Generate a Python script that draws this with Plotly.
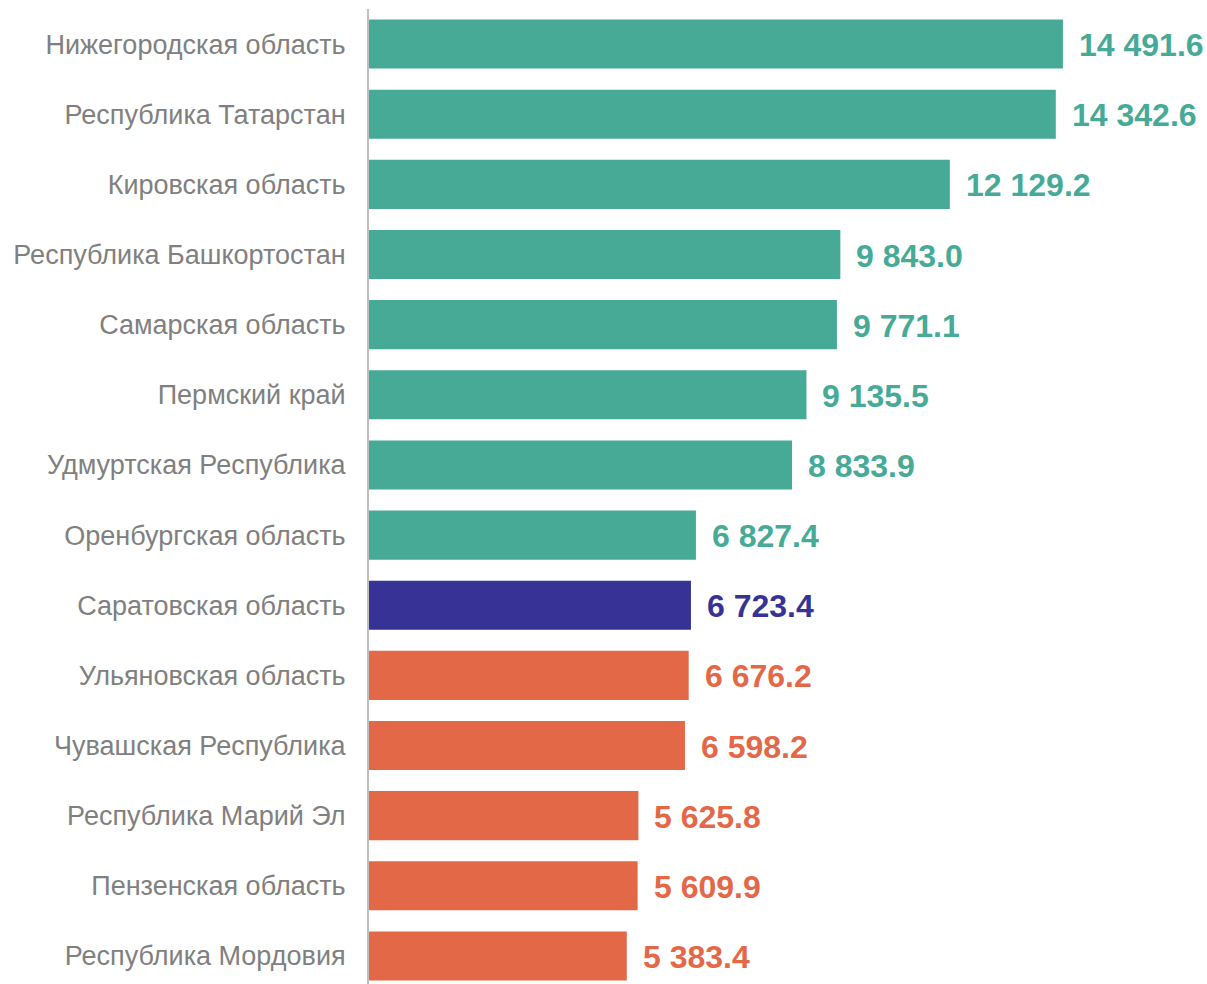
import plotly.graph_objects as go

regions = [
    "Нижегородская область",
    "Республика Татарстан",
    "Кировская область",
    "Республика Башкортостан",
    "Самарская область",
    "Пермский край",
    "Удмуртская Республика",
    "Оренбургская область",
    "Саратовская область",
    "Ульяновская область",
    "Чувашская Республика",
    "Республика Марий Эл",
    "Пензенская область",
    "Республика Мордовия",
]
values = [14491.6, 14342.6, 12129.2, 9843.0, 9771.1, 9135.5, 8833.9,
          6827.4, 6723.4, 6676.2, 6598.2, 5625.8, 5609.9, 5383.4]

TEAL = "#46AA97"
NAVY = "#373296"
ORANGE = "#E36847"
ref_index = regions.index("Саратовская область")
colors = [TEAL if i < ref_index else (NAVY if i == ref_index else ORANGE)
          for i in range(len(values))]

def fmt(v):
    return f"{v:,.1f}".replace(",", " ")

FONT = "Liberation Sans, Arial, sans-serif"

fig = go.Figure()
fig.add_trace(go.Bar(
    x=values, y=regions, orientation="h",
    marker=dict(color=colors, line=dict(width=0)),
    hoverinfo="skip",
))

for r, v, c in zip(regions, values, colors):
    fig.add_annotation(
        x=v, y=r, text=fmt(v), showarrow=False,
        xanchor="left", yanchor="middle", xshift=14, yshift=-1,
        font=dict(family=FONT, size=32, color=c, weight="bold"),
    )

fig.update_layout(
    width=1207, height=984,
    margin=dict(l=369, r=0, t=9, b=0),
    paper_bgcolor="white", plot_bgcolor="white",
    bargap=0.3,
    showlegend=False,
    font=dict(family=FONT),
)
fig.update_xaxes(range=[0, 17500], visible=False, showgrid=False, zeroline=False)
fig.update_yaxes(
    range=[13.4, -0.5],
    showline=True, linecolor="#BFBFBF", linewidth=2,
    showgrid=False, zeroline=False,
    ticks="", ticklabelstandoff=16,
    tickfont=dict(size=27, color="#808080", family=FONT),
)

# remove the browser's default page margin so the figure fills the window exactly
fig.write_html(
    "out.html",
    config={"displayModeBar": False},
    post_script="document.body.style.margin='0';document.body.style.overflow='hidden';",
)
